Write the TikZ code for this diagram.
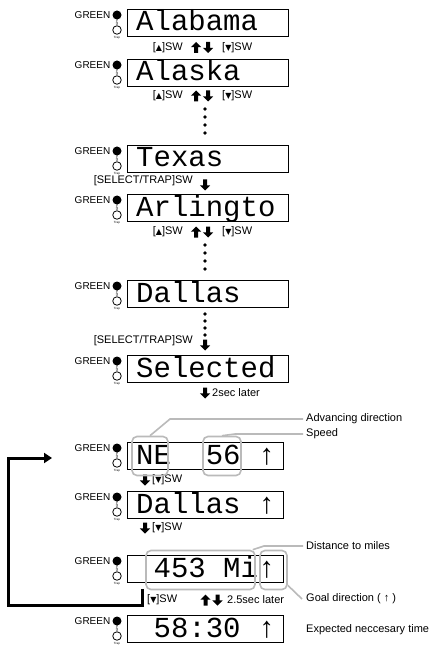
\documentclass[tikz,border=0pt]{standalone}
\usepackage{fontspec}
\setmainfont{Liberation Sans}
\newfontfamily\dispfont{Liberation Mono}
\newfontfamily\symfont{DejaVu Sans}
\usetikzlibrary{arrows.meta}
\newcommand\dsp{\hphantom{0}}
\newcommand\tup{{\symfont\fontsize{8}{8}\selectfont ▲}}
\newcommand\tdn{{\symfont\fontsize{8}{8}\selectfont ▼}}
\begin{document}
\begin{tikzpicture}[x=1pt,y=-1pt,
  dbox/.style={draw, line width=0.9pt, anchor=north west, minimum height=27pt, inner sep=0pt},
  wideb/.style={dbox, minimum width=161pt},
  narrowb/.style={dbox, minimum width=156pt},
  dtext/.style={anchor=base west, inner sep=0pt, font=\dispfont\fontsize{29}{29}\selectfont},
  lbl/.style={inner sep=0pt, font=\fontsize{11}{13}\selectfont},
  greenlbl/.style={inner sep=0pt, font=\fontsize{10}{12}\selectfont, anchor=east},
  tinyt/.style={inner sep=0pt, font=\fontsize{3}{3}\selectfont},
  ledon/.style={circle, fill=black, inner sep=0pt, minimum size=9pt},
  ledoff/.style={circle, draw=black, line width=0.8pt, inner sep=0pt, minimum size=8.5pt},
  vdot/.style={circle, fill=black, inner sep=0pt, minimum size=3.6pt},
  callout/.style={draw=black!27, line width=1.6pt, rounded corners=5pt, inner sep=0pt, minimum height=39pt},
  lead/.style={draw=black!27, line width=1.6pt},
  retline/.style={line width=3pt, -{Triangle[length=8pt,width=10pt]}},
  led/.pic={
    \node[ledon] (-on) at (0,0) {};
    \node[ledoff] (-off) at (0,15) {};
    \node[greenlbl] (-g) at (-6.5,0) {GREEN};
    \node[tinyt, rotate=90] (-gps) at (0,7.6) {GPS};
    \node[tinyt] (-trap) at (0,22.3) {Trap};
  },
  fatup/.pic={\fill[black] (0,-5.5) -- (5.2,-0.3) -- (2,-0.3) -- (2,5.5) -- (-2,5.5) -- (-2,-0.3) -- (-5.2,-0.3) -- cycle;},
  fatdown/.pic={\fill[black] (0,5.5) -- (5.2,0.3) -- (2,0.3) -- (2,-5.5) -- (-2,-5.5) -- (-2,0.3) -- (-5.2,0.3) -- cycle;}
]
\fill[white] (0,0) rectangle (436,652);
\useasboundingbox (0,0) rectangle (436,652);

% display boxes
\node[wideb] (d1) at (127,9) {};
\node[wideb] (d2) at (127,59) {};
\node[wideb] (d3) at (127,145) {};
\node[wideb] (d4) at (127,194) {};
\node[wideb] (d5) at (127,280) {};
\node[wideb] (d6) at (127,355) {};
\node[narrowb] (d7) at (127,442) {};
\node[narrowb] (d8) at (127,491) {};
\node[narrowb] (d9) at (127,555) {};
\node[narrowb] (d10) at (127,615) {};

% display texts
\node[dtext] (t1) at ([xshift=9pt,yshift=-22pt]d1.north west) {Alabama};
\node[dtext] (t2) at ([xshift=9pt,yshift=-22pt]d2.north west) {Alaska};
\node[dtext] (t3) at ([xshift=9pt,yshift=-22pt]d3.north west) {Texas};
\node[dtext] (t4) at ([xshift=9pt,yshift=-22pt]d4.north west) {Arlingto};
\node[dtext] (t5) at ([xshift=9pt,yshift=-22pt]d5.north west) {Dallas};
\node[dtext] (t6) at ([xshift=9pt,yshift=-22pt]d6.north west) {Selected};
\node[dtext] (t7) at ([xshift=9pt,yshift=-22pt]d7.north west) {NE\dsp\dsp56\dsp↑};
\node[dtext] (t8) at ([xshift=9pt,yshift=-22pt]d8.north west) {Dallas\dsp↑};
\node[dtext] (t9) at ([xshift=9pt,yshift=-22pt]d9.north west) {\dsp453\dsp Mi↑};
\node[dtext] (t10) at ([xshift=9pt,yshift=-22pt]d10.north west) {\dsp58:30\dsp↑};

% GPS/Trap indicators
\foreach \i in {1,...,10}
  \pic (l\i) at ([xshift=-10pt,yshift=-6pt]d\i.north west) {led};

% row 1-2
\node[lbl, anchor=east] (a1) at (183,47.5) {[\tup]SW};
\pic (u1) at (196,47.5) {fatup};
\pic (w1) at (208,47.5) {fatdown};
\node[lbl, anchor=west] (b1) at (222,47.5) {[\tdn]SW};
% row 2-3
\node[lbl, anchor=east] (a2) at (183,96) {[\tup]SW};
\pic (u2) at (196,96) {fatup};
\pic (w2) at (208,96) {fatdown};
\node[lbl, anchor=west] (b2) at (222,96) {[\tdn]SW};
\foreach \k/\yy in {1/109,2/117,3/125,4/133}
  \node[vdot] (p2\k) at (205,\yy) {};
% row 3-4
\node[lbl, anchor=east] (a3) at (193,181) {[SELECT/TRAP]SW};
\pic (w3) at (205,185) {fatdown};
% row 4-5
\node[lbl, anchor=east] (a4) at (183,232) {[\tup]SW};
\pic (u4) at (196,232) {fatup};
\pic (w4) at (208,232) {fatdown};
\node[lbl, anchor=west] (b4) at (222,232) {[\tdn]SW};
\foreach \k/\yy in {1/245,2/253,3/261,4/269}
  \node[vdot] (p4\k) at (205,\yy) {};
% row 5-6
\foreach \k/\yy in {1/314,2/321,3/328,4/335}
  \node[vdot] (p5\k) at (205,\yy) {};
\node[lbl, anchor=east] (a5) at (193,341) {[SELECT/TRAP]SW};
\pic (w5) at (205,345) {fatdown};
% row 6-7
\pic (w6) at (205,393) {fatdown};
\node[lbl, anchor=west] (b6) at (212,393) {2sec later};
% row 7-8
\pic (w7) at (145,480) {fatdown};
\node[lbl, anchor=west] (b7) at (152,480) {[\tdn]SW};
% row 8-9
\pic (w8) at (145,528) {fatdown};
\node[lbl, anchor=west] (b8) at (152,528) {[\tdn]SW};
% row 9-10
\node[lbl, anchor=west] (a9) at (147,600) {[\tdn]SW};
\pic (u9) at (205.5,600) {fatup};
\pic (w9) at (217.5,600) {fatdown};
\node[lbl, anchor=west] (b9) at (227,600) {2.5sec later};

% annotations
\node[callout, minimum width=36pt] (cNE) at (150,456) {};
\node[callout, minimum width=38pt] (c56) at (222,456) {};
\node[callout, minimum width=109pt] (cDist) at (200.5,570) {};
\node[callout, minimum width=27pt] (cUp) at (273.5,570) {};

\node[lbl, anchor=west] (nAdv) at (306,419) {Advancing direction};
\node[lbl, anchor=west] (nSpd) at (306,434) {Speed};
\node[lbl, anchor=west] (nDist) at (306,546) {Distance to miles};
\node[lbl, anchor=west] (nGoal) at (306,599) {Goal direction ( ↑ )};
\node[lbl, anchor=west] (nExp) at (306,630) {Expected neccesary time};

\draw[lead] (cNE.north) -- ([xshift=-136pt]nAdv.west) -- ([xshift=-3pt]nAdv.west);
\draw[lead] (c56.north) -- ([xshift=-71pt]nSpd.west) -- ([xshift=-3pt]nSpd.west);
\draw[lead] ([xshift=-3pt]cDist.north east) -- ([xshift=-42pt]nDist.west) -- ([xshift=-3pt]nDist.west);
\draw[lead] ([yshift=5pt]cUp.south east) -- ([xshift=-4pt]nGoal.west);

% return connector
\coordinate (ret) at ([xshift=15pt,yshift=-6pt]d9.south west);
\coordinate (rettip) at (52,458);
\draw[retline] (ret) -- ++(0,17) -| (8,458) -- (rettip);
\end{tikzpicture}
\end{document}
